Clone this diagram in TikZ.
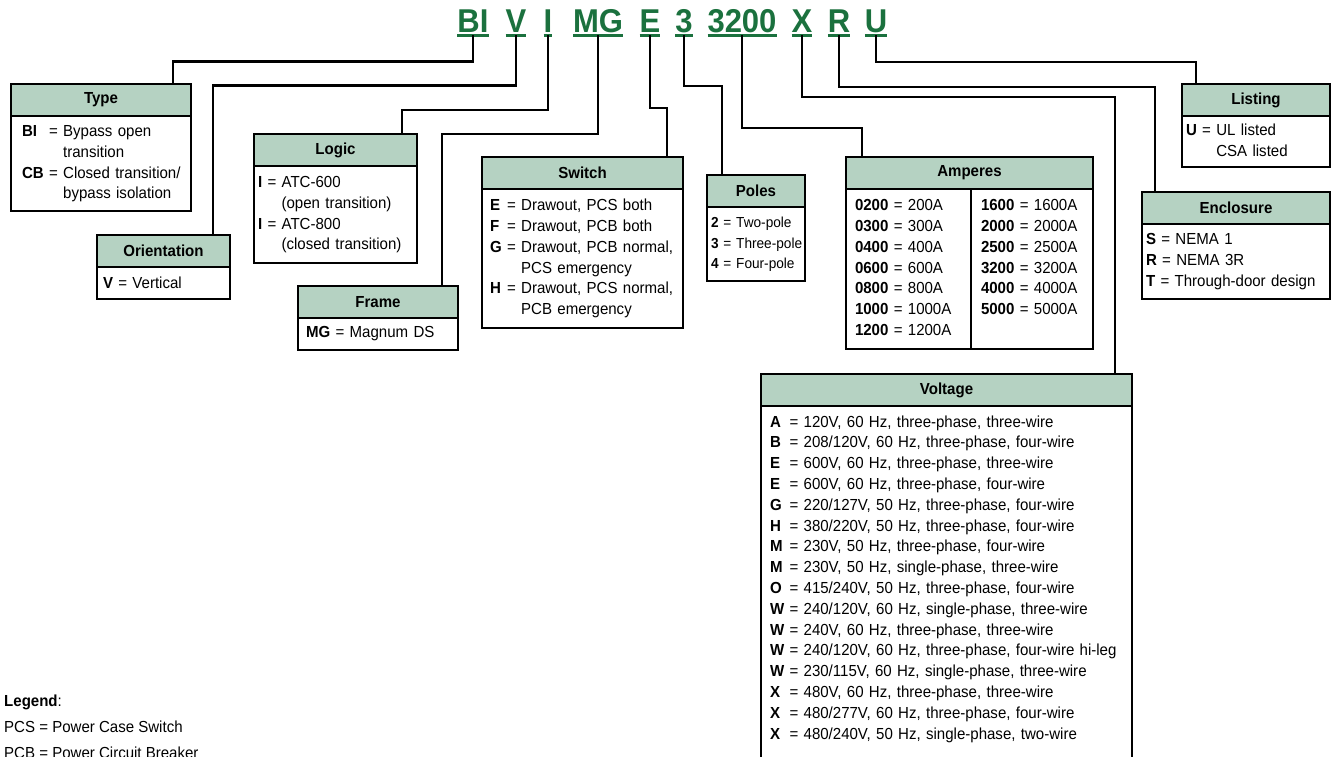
\documentclass[tikz,border=0pt]{standalone}
\usepackage{fontspec}
\setmainfont{Liberation Sans}[FakeStretch=0.94]
\usetikzlibrary{positioning}
\definecolor{sage}{RGB}{181,210,194}
\definecolor{codegreen}{RGB}{27,113,62}
\renewcommand{\arraystretch}{1}

\begin{document}
\begin{tikzpicture}[
  x=1pt, y=-1pt,
  font=\fontsize{16}{20.8}\selectfont,
  code/.style={
    anchor=base, inner sep=0pt, outer sep=0pt,
    text=codegreen, font=\bfseries\fontsize{33}{33}\selectfont
  },
  uline/.style={draw=codegreen, line width=2.4pt},
  conn/.style={line width=2.5pt},
  hdr/.style={
    draw, fill=sage, line width=1.2pt,
    font=\fontsize{16}{20.8}\selectfont\bfseries,
    minimum height=32pt, inner sep=0pt, outer sep=0pt, anchor=north west
  },
  body/.style={
    draw, fill=white, line width=1.2pt, align=left,
    inner xsep=8pt, inner ysep=0pt, outer sep=0pt
  }
]
\useasboundingbox (0,0) rectangle (1334,757);
\clip (0,0) rectangle (1334,757);
\fill[white] (0,0) rectangle (1334,757);

% Catalog number
\node[code] (cBI) at (473,33) {BI};
\node[code] (cV) at (516,33) {V};
\node[code] (cI) at (548,33) {I};
\node[code] (cMG) at (598,33) {MG};
\node[code] (cE) at (650,33) {E};
\node[code] (c3) at (684,33) {3};
\node[code] (c3200) at (742,33) {3200};
\node[code] (cX) at (802,33) {X};
\node[code] (cR) at (839,33) {R};
\node[code] (cU) at (876,33) {U};
\foreach \c in {BI,V,I,MG,E,3,3200,X,R,U}
  \draw[uline] ([yshift=-2.5pt]c\c.base west) -- ([yshift=-2.5pt]c\c.base east);

% Type
\node[hdr, minimum width=180pt] (typeH) at (11,84) {Type};
\node[body, text width=158pt, inner xsep=11pt, minimum height=95pt, below=0pt of typeH] (type) {%
  \begin{tabular}{@{}l@{ }l@{}}
  \textbf{BI} & = Bypass open\\
              & \phantom{= }transition\\
  \textbf{CB} & = Closed transition/\\
              & \phantom{= }bypass isolation
  \end{tabular}};

% Orientation
\node[hdr, minimum width=133pt] (orientH) at (97,235) {Orientation};
\node[body, text width=121pt, inner xsep=6pt, minimum height=32pt, below=0pt of orientH] (orient) {%
  \textbf{V} = Vertical};

% Logic
\node[hdr, minimum width=163pt] (logicH) at (254,134) {Logic};
\node[body, text width=155pt, inner xsep=4pt, minimum height=97pt, below=0pt of logicH] (logic) {%
  \begin{tabular}{@{}l@{ }l@{}}
  \textbf{I} & = ATC-600\\
             & \phantom{= }(open transition)\\
  \textbf{I} & = ATC-800\\
             & \phantom{= }(closed transition)
  \end{tabular}};

% Frame
\node[hdr, minimum width=160pt] (frameH) at (298,286) {Frame};
\node[body, text width=144pt, minimum height=32pt, below=0pt of frameH] (frame) {%
  \textbf{MG} = Magnum DS};

% Switch
\node[hdr, minimum width=201pt] (switchH) at (482,157) {Switch};
\node[body, text width=185pt, minimum height=139pt, below=0pt of switchH] (switch) {%
  \begin{tabular}{@{}l@{ }l@{}}
  \textbf{E} & = Drawout, PCS both\\
  \textbf{F} & = Drawout, PCB both\\
  \textbf{G} & = Drawout, PCB normal,\\
             & \phantom{= }PCS emergency\\
  \textbf{H} & = Drawout, PCS normal,\\
             & \phantom{= }PCB emergency
  \end{tabular}};

% Poles
\node[hdr, minimum width=98pt] (polesH) at (707,175) {Poles};
\node[body, text width=90pt, inner xsep=4pt, minimum height=74pt, below=0pt of polesH,
  font=\fontsize{14.5}{20.8}\selectfont] (poles) {%
  \begin{tabular}{@{}l@{}}
  \textbf{2} = Two-pole\\
  \textbf{3} = Three-pole\\
  \textbf{4} = Four-pole
  \end{tabular}};

% Amperes
\node[hdr, minimum width=247pt] (ampH) at (846,157) {Amperes};
\node[body, anchor=north west, text width=107pt, inner xsep=9pt, minimum height=160pt] (ampL)
  at (ampH.south west) {%
  \begin{tabular}{@{}l@{}}
  \textbf{0200} = 200A\\
  \textbf{0300} = 300A\\
  \textbf{0400} = 400A\\
  \textbf{0600} = 600A\\
  \textbf{0800} = 800A\\
  \textbf{1000} = 1000A\\
  \textbf{1200} = 1200A
  \end{tabular}};
\node[body, anchor=north west, text width=102pt, inner xsep=10pt, minimum height=160pt] (ampR)
  at (ampL.north east) {%
  \begin{tabular}{@{}l@{}}
  \textbf{1600} = 1600A\\
  \textbf{2000} = 2000A\\
  \textbf{2500} = 2500A\\
  \textbf{3200} = 3200A\\
  \textbf{4000} = 4000A\\
  \textbf{5000} = 5000A\\
  ~
  \end{tabular}};

% Listing
\node[hdr, minimum width=148pt] (listH) at (1182,84) {Listing};
\node[body, text width=140pt, inner xsep=4pt, minimum height=51pt, below=0pt of listH] (list) {%
  \begin{tabular}{@{}l@{ }l@{}}
  \textbf{U} & = UL listed\\
             & \phantom{= }CSA listed
  \end{tabular}};

% Enclosure
\node[hdr, minimum width=188pt] (enclH) at (1142,192) {Enclosure};
\node[body, text width=180pt, inner xsep=4pt, minimum height=75pt, below=0pt of enclH] (encl) {%
  \textbf{S} = NEMA 1\\
  \textbf{R} = NEMA 3R\\
  \textbf{T} = Through-door design};

% Voltage
\node[hdr, minimum width=371pt] (voltH) at (761,374) {Voltage};
\node[body, text width=353pt, inner xsep=9pt, inner ysep=6.6pt, below=0pt of voltH] (volt) {%
  \begin{tabular}{@{}l@{ }l@{}}
  \textbf{A} & = 120V, 60 Hz, three-phase, three-wire\\
  \textbf{B} & = 208/120V, 60 Hz, three-phase, four-wire\\
  \textbf{E} & = 600V, 60 Hz, three-phase, three-wire\\
  \textbf{E} & = 600V, 60 Hz, three-phase, four-wire\\
  \textbf{G} & = 220/127V, 50 Hz, three-phase, four-wire\\
  \textbf{H} & = 380/220V, 50 Hz, three-phase, four-wire\\
  \textbf{M} & = 230V, 50 Hz, three-phase, four-wire\\
  \textbf{M} & = 230V, 50 Hz, single-phase, three-wire\\
  \textbf{O} & = 415/240V, 50 Hz, three-phase, four-wire\\
  \textbf{W} & = 240/120V, 60 Hz, single-phase, three-wire\\
  \textbf{W} & = 240V, 60 Hz, three-phase, three-wire\\
  \textbf{W} & = 240/120V, 60 Hz, three-phase, four-wire hi-leg\\
  \textbf{W} & = 230/115V, 60 Hz, single-phase, three-wire\\
  \textbf{X} & = 480V, 60 Hz, three-phase, three-wire\\
  \textbf{X} & = 480/277V, 60 Hz, three-phase, four-wire\\
  \textbf{X} & = 480/240V, 50 Hz, single-phase, two-wire\\[60pt]
  \end{tabular}};

% Legend
\node[anchor=north west, inner sep=0pt, align=left, font=\fontsize{16}{26}\selectfont] (legend)
  at (4,695) {\textbf{Legend}:\\ PCS = Power Case Switch\\ PCB = Power Circuit Breaker};

% Connectors
\draw[conn] ([yshift=-2.5pt]cBI.base) -- ++(0,26) -| ([xshift=-18pt]typeH.north east);
\draw[conn] ([yshift=-2.5pt]cV.base) -- ++(0,50) -| ([xshift=-17pt]orientH.north east);
\draw[conn] ([yshift=-2.5pt]cI.base) -- ++(0,74.5) -| ([xshift=-15pt]logicH.north east);
\draw[conn] ([yshift=-2.5pt]cMG.base) -- ++(0,98.5) -| ([xshift=-16pt]frameH.north east);
\draw[conn] ([yshift=-2.5pt]cE.base) -- ++(0,72.5) -| ([xshift=-16pt]switchH.north east);
\draw[conn] ([yshift=-2.5pt]c3.base) -- ++(0,50.5) -| ([xshift=15pt]polesH.north west);
\draw[conn] ([yshift=-2.5pt]c3200.base) -- ++(0,92.5) -| ([xshift=16pt]ampH.north west);
\draw[conn] ([yshift=-2.5pt]cX.base) -- ++(0,61.5) -| ([xshift=-17pt]voltH.north east);
\draw[conn] ([yshift=-2.5pt]cR.base) -- ++(0,51.5) -| ([xshift=13pt]enclH.north west);
\draw[conn] ([yshift=-2.5pt]cU.base) -- ++(0,26.5) -| ([xshift=14pt]listH.north west);

\end{tikzpicture}
\end{document}
